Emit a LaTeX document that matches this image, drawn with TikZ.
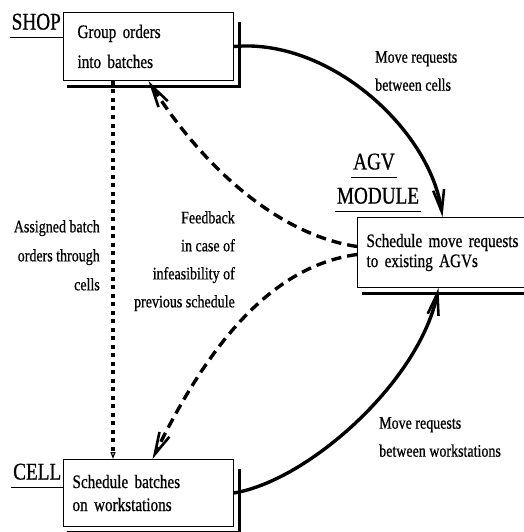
\documentclass[tikz,border=0pt]{standalone}
\usepackage{fontspec}
\setmainfont{Liberation Serif}[FakeStretch=0.8,FakeBold=0.7]
\usepackage{tikz}
\usetikzlibrary{arrows.meta,calc}
\tikzset{
  task/.style={draw, line width=1pt, anchor=north west, align=left, minimum height=68pt, inner ysep=0pt},
  tag/.style={font=\fontsize{24}{24}\selectfont, inner xsep=2pt, inner ysep=7pt},
  note/.style={font=\fontsize{17.5}{28}\selectfont, inner sep=0pt},
  ledge/.style={line width=3pt},
  move/.style={line width=3.4pt, -{Straight Barb[length=22pt,width=11pt,line width=2.6pt]}},
  feedback/.style={move, dash pattern=on 10pt off 6pt},
  assign/.style={line width=3.2pt, dash pattern=on 4pt off 4.5pt, -{Triangle[open,length=7pt,width=5pt,line width=1.2pt]}},
}
\begin{document}
\begin{tikzpicture}[x=1pt,y=-1pt]
\useasboundingbox (0,0) rectangle (523,532);
\node[task, text width=142pt, inner xsep=14pt, font=\fontsize{19}{30}\selectfont] (shop) at (63,12) {Group orders\\into batches};
\node[task, text width=160pt, inner xsep=9pt, minimum height=70pt, font=\fontsize{19}{20}\selectfont] (agv) at (357,217) {Schedule move requests\\to existing AGVs};
\node[task, text width=152pt, inner xsep=9pt, minimum height=67pt, font=\fontsize{19}{23}\selectfont] (cell) at (63,459) {Schedule batches\\on workstations};
\draw[ledge] ($(shop.north east)+(5,10)$) |- ($(shop.south west)+(4,6)$);
\draw[ledge] ($(agv.north east)+(5,10)$) |- ($(agv.south west)+(5,5)$);
\draw[ledge] ($(cell.north east)+(5,10)$) |- ($(cell.south west)+(4,5)$);
\node[tag, anchor=south east] (shoptag) at (63,37) {SHOP};
\node[tag, anchor=south] (agvtag) at (374,177) {AGV};
\node[tag, anchor=south] (modtag) at (378,211) {MODULE};
\node[tag, anchor=south west] (celltag) at (11,487) {CELL};
\draw[line width=0.9pt] (shoptag.south west) -- (shoptag.south east);
\draw[line width=0.9pt] (agvtag.south west) -- (agvtag.south east);
\draw[line width=0.9pt] (modtag.south west) -- (modtag.south east);
\draw[line width=0.9pt] (celltag.south west) -- (celltag.south east);
\draw[move] (shop.east) .. controls (330,38) and (430,130) .. ([xshift=-4pt]agv.north);
\draw[move] (cell.east) .. controls (310,480) and (420,380) .. ([xshift=-8pt]agv.south);
\draw[feedback] ([yshift=6pt]agv.west) .. controls (280,235) and (205,170) .. (shop.south);
\draw[feedback] ([yshift=-2pt]agv.west) .. controls (280,265) and (215,330) .. ([xshift=4pt]cell.north);
\draw[assign] ([xshift=50pt]shop.south west) -- ([xshift=50pt]cell.north west);
\node[note, anchor=north west, align=left] (cellsnote) at (375,51) {Move requests\\between cells};
\node[note, anchor=north west, align=left] (worknote) at (379,417) {Move requests\\between workstations};
\node[note, anchor=north east, align=right] (feednote) at (235,211) {Feedback\\in case of\\infeasibility of\\previous schedule};
\node[note, anchor=north east, align=right, font=\fontsize{17.5}{29}\selectfont] (assignnote) at (100,220) {Assigned batch\\orders through\\cells};
\end{tikzpicture}
\end{document}
